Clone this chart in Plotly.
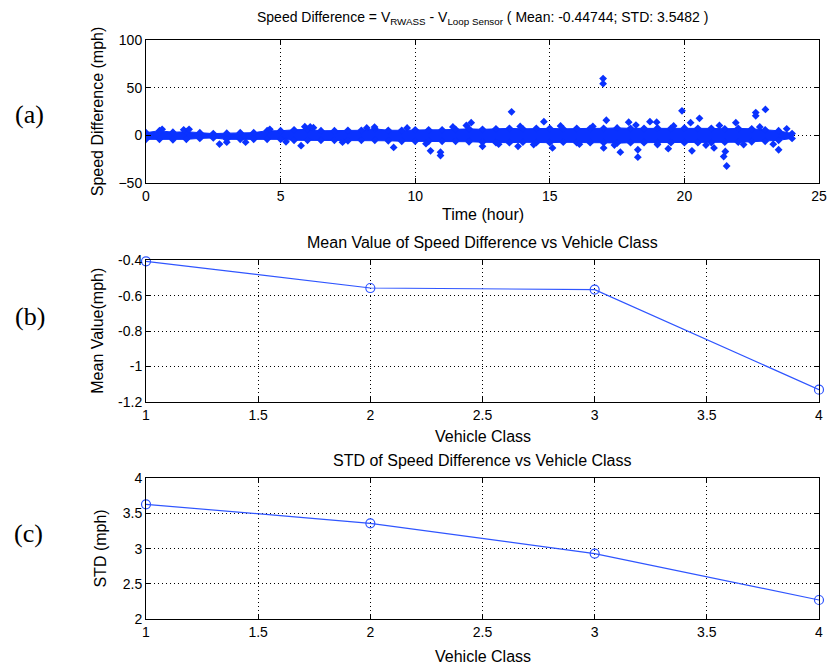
import plotly.graph_objects as go
from plotly.subplots import make_subplots

# ---------------- data ----------------
# (a) dense band of speed differences: envelope of marker centres every 0.5 h
band_time = [0, 0.5, 1, 1.5, 2, 2.5, 3, 3.5, 4, 4.5, 5, 5.5, 6, 6.5, 7, 7.5, 8, 8.5, 9, 9.5,
             10, 10.5, 11, 11.5, 12, 12.5, 13, 13.5, 14, 14.5, 15, 15.5, 16, 16.5, 17, 17.5,
             18, 18.5, 19, 19.5, 20, 20.5, 21, 21.5, 22, 22.5, 23, 23.5, 24]
band_upper = [3, 5, 3.5, 4, 3, 2, 2.5, 3, 3, 5, 5, 6, 6.5, 5, 5, 5.5, 5.5, 7, 5.5, 5.5,
              6, 6, 6, 6.5, 7, 6.5, 7, 7.5, 7, 7.5, 7.5, 7, 7.5, 7.5, 7.5, 8,
              7.5, 7.5, 8, 7.5, 8, 7.5, 7.5, 7, 7.5, 7, 6, 5, 2]
band_lower = [-4, -4, -4.5, -4, -3, -2.5, -4, -4, -4, -4, -4, -5, -5, -5, -5, -5.5, -5, -5, -5.5, -6,
              -6, -6, -6, -6, -6.5, -7, -7.5, -7.5, -7, -7.5, -7.5, -7, -7.5, -7.5, -7.5, -8,
              -7.5, -7.5, -7.5, -7.5, -7.5, -7.5, -7.5, -7, -7, -6.5, -6, -5, -3]
# (a) sparse points outside / on the edge of the band
sparse_time = [2.73, 3.7, 5.76, 5.9, 6.22, 8.49, 9.2, 10.57, 10.94, 10.94, 12.08, 12.5, 13.58,
               13.82, 14.78, 15.1, 16.98, 16.98, 17.0, 17.1, 17.62, 17.93, 18.27, 18.27, 18.72,
               18.97, 19.4, 19.91, 20.23, 20.28, 20.56, 21.1, 21.46, 21.57, 21.52, 21.91, 22.65,
               22.65, 23.01, 23.5,
               0.6, 1.4, 1.6, 3.0, 4.6, 5.2, 6.1, 7.3, 8.2, 9.7, 10.4, 11.4, 11.9, 13.1, 13.9,
               14.4, 15.4, 16.1, 16.6, 17.4, 18.2, 19.0, 19.6, 20.8, 21.3, 22.2, 22.8, 23.3, 23.8]
sparse_diff = [-8.9, -7, -10.6, 9.2, 8.2, 8.9, -12.4, -16, -17.4, -20.9, 13.5, -11.3, 24.8,
               -11.3, 14.5, -13, 59.6, 54.3, -13, 16, -17.4, 14, -22.7, -14.9, 14.5,
               14, -13.8, 25.9, 13.5, -16, 18, -13, -22, -31.9, -16.7, 13.5, 24,
               20.6, 27.3, -14.9,
               6.5, 6, 6.5, -7, 6.5, -6.5, 9, -7, 8, 8, -8.5, 9, 10.5, -9, 9.5,
               -9.5, 10, -9, 9.5, -10, 11, -9.5, 10, -10, 10.5, -9.5, 9, -9, 7]

# (b), (c)
vehicle_class = [1, 2, 3, 4]
mean_value = [-0.405, -0.556, -0.565, -1.132]
std_value = [3.63, 3.36, 2.93, 2.27]

title_a = ("Speed Difference = V<sub>RWASS</sub> - V<sub>Loop Sensor</sub> "
           "( Mean: -0.44744; STD: 3.5482 )")
title_b = "Mean Value of Speed Difference vs Vehicle Class"
title_c = "STD of Speed Difference vs Vehicle Class"

# ---------------- figure ----------------
BLUE = "#0a32ff"
LINE_BLUE = "#2f55ff"
FONT = "Liberation Sans, Arial, sans-serif"

fig = make_subplots(rows=3, cols=1)

# band: upper edge, then lower edge filled to upper
fig.add_trace(go.Scatter(x=band_time, y=band_upper, mode="lines+markers",
                         line=dict(color=BLUE, width=1),
                         marker=dict(symbol="diamond", size=6, color=BLUE),
                         showlegend=False), row=1, col=1)
fig.add_trace(go.Scatter(x=band_time, y=band_lower, mode="lines+markers",
                         line=dict(color=BLUE, width=1), fill="tonexty", fillcolor=BLUE,
                         marker=dict(symbol="diamond", size=6, color=BLUE),
                         showlegend=False), row=1, col=1)
fig.add_trace(go.Scatter(x=sparse_time, y=sparse_diff, mode="markers",
                         marker=dict(symbol="diamond", size=6, color=BLUE),
                         showlegend=False), row=1, col=1)

fig.add_trace(go.Scatter(x=vehicle_class, y=mean_value, mode="lines+markers",
                         line=dict(color=LINE_BLUE, width=1.2),
                         marker=dict(symbol="circle-open", size=9, color=LINE_BLUE,
                                     line=dict(width=1.2)),
                         showlegend=False, cliponaxis=False), row=2, col=1)
fig.add_trace(go.Scatter(x=vehicle_class, y=std_value, mode="lines+markers",
                         line=dict(color=LINE_BLUE, width=1.2),
                         marker=dict(symbol="circle-open", size=9, color=LINE_BLUE,
                                     line=dict(width=1.2)),
                         showlegend=False, cliponaxis=False), row=3, col=1)

axis_common = dict(showline=True, linecolor="black", linewidth=1, mirror="ticks",
                   ticks="inside", ticklen=5, tickcolor="black",
                   showgrid=True, gridcolor="black", gridwidth=1, griddash="1px,3px",
                   zeroline=False, tickfont=dict(family=FONT, size=14, color="black"))

fig.update_xaxes(axis_common)
fig.update_yaxes(axis_common)

fig.update_xaxes(range=[0, 25], tickvals=[0, 5, 10, 15, 20, 25], row=1, col=1)
fig.update_yaxes(range=[-50, 100], tickvals=[-50, 0, 50, 100], row=1, col=1)
fig.update_xaxes(range=[1, 4], tickvals=[1, 1.5, 2, 2.5, 3, 3.5, 4],
                 ticktext=["1", "1.5", "2", "2.5", "3", "3.5", "4"], row=2, col=1)
fig.update_yaxes(range=[-1.2, -0.4], tickvals=[-1.2, -1, -0.8, -0.6, -0.4],
                 ticktext=["-1.2", "-1", "-0.8", "-0.6", "-0.4"], row=2, col=1)
fig.update_xaxes(range=[1, 4], tickvals=[1, 1.5, 2, 2.5, 3, 3.5, 4],
                 ticktext=["1", "1.5", "2", "2.5", "3", "3.5", "4"], row=3, col=1)
fig.update_yaxes(range=[2, 4], tickvals=[2, 2.5, 3, 3.5, 4],
                 ticktext=["2", "2.5", "3", "3.5", "4"], row=3, col=1)

fig.update_layout(
    width=835, height=665,
    margin=dict(l=146, r=8, t=40, b=46),
    paper_bgcolor="white", plot_bgcolor="white",
    font=dict(family=FONT, size=14, color="black"),
    xaxis=dict(domain=[0, 1]), yaxis=dict(domain=[0.7525, 1.0]),
    xaxis2=dict(domain=[0, 1]), yaxis2=dict(domain=[0.3753, 0.6192]),
    xaxis3=dict(domain=[0, 1]), yaxis3=dict(domain=[0.0, 0.243]),
)

def ann(text, x, y, size=16, angle=0, family=FONT):
    fig.add_annotation(text=text, x=x, y=y, xref="paper", yref="paper",
                       showarrow=False, textangle=angle, xanchor="center", yanchor="middle",
                       font=dict(family=family, size=size, color="black"))

# titles
ann(title_a, 0.5, 1.038, size=14)
ann(title_b, 0.5, 0.651)
ann(title_c, 0.5, 0.2746)
# x-axis titles
ann("Time (hour)", 0.5, 0.6978)
ann("Vehicle Class", 0.5, 0.316)
ann("Vehicle Class", 0.5, -0.064)
# y-axis titles
ann("Speed Difference (mph)", -0.0719, 0.8762, angle=-90)
ann("Mean Value(mph)", -0.0719, 0.4972, angle=-90)
ann("STD (mph)", -0.067, 0.1215, angle=-90)
# panel labels
SERIF = "Liberation Serif, Times New Roman, serif"
ann("(a)", -0.173, 0.872, size=26, family=SERIF)
ann("(b)", -0.173, 0.5225, size=26, family=SERIF)
ann("(c)", -0.175, 0.1485, size=26, family=SERIF)

fig.write_html("out.html")
